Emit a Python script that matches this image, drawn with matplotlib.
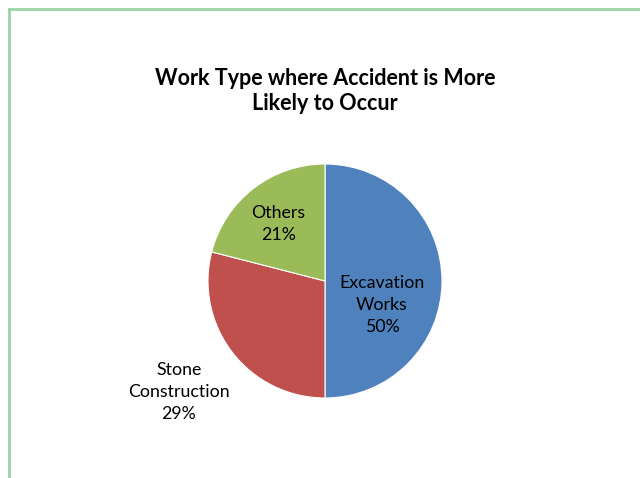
import matplotlib
matplotlib.use("Agg")
import matplotlib.pyplot as plt
import numpy as np
from matplotlib.lines import Line2D

categories = ["Excavation\nWorks", "Stone\nConstruction", "Others"]
values = [50, 29, 21]
colors = ["#4F81BD", "#C0504D", "#9BBB59"]
title = "Work Type where Accident is More\nLikely to Occur"

# label placement: (radius fraction, angle offset from wedge middle in degrees)
label_pos = [(0.53, -23.0), (1.57, -0.5), (0.63, 1.7)]

plt.rcParams["font.family"] = ["Lato", "DejaVu Sans"]

W, H = 640, 478
fig = plt.figure(figsize=(W / 100, H / 100), dpi=100)

# outer chart border (green), open at right and bottom
fig.add_artist(Line2D([9 / W, 9 / W], [0, 1 - 8.5 / H], color="#9DD4A6", lw=2.0,
                      transform=fig.transFigure))
fig.add_artist(Line2D([9 / W, 1], [1 - 8.5 / H, 1 - 8.5 / H], color="#9DD4A6", lw=2.0,
                      transform=fig.transFigure))

cx, cy, r = 325, 281, 117
ax = fig.add_axes([(cx - r) / W, (H - cy - r) / H, 2 * r / W, 2 * r / H])
wedges, _ = ax.pie(values, colors=colors, startangle=90, counterclock=False,
                   radius=1, wedgeprops=dict(edgecolor="white", linewidth=0.8))
ax.set_xlim(-1, 1)
ax.set_ylim(-1, 1)
ax.set_aspect("equal")
ax.axis("off")

for w, cat, v, (rf, off) in zip(wedges, categories, values, label_pos):
    mid = np.deg2rad((w.theta1 + w.theta2) / 2 + off)
    ax.text(rf * np.cos(mid), rf * np.sin(mid), f"{cat}\n{v}%",
            ha="center", va="center", fontsize=12.8, color="black",
            linespacing=1.45, clip_on=False)

fig.text(cx / W, 1 - 91 / H, title, ha="center", va="center",
         fontsize=15.5, fontweight="bold", linespacing=1.27)

fig.savefig("out.png", dpi=100, facecolor="white")
